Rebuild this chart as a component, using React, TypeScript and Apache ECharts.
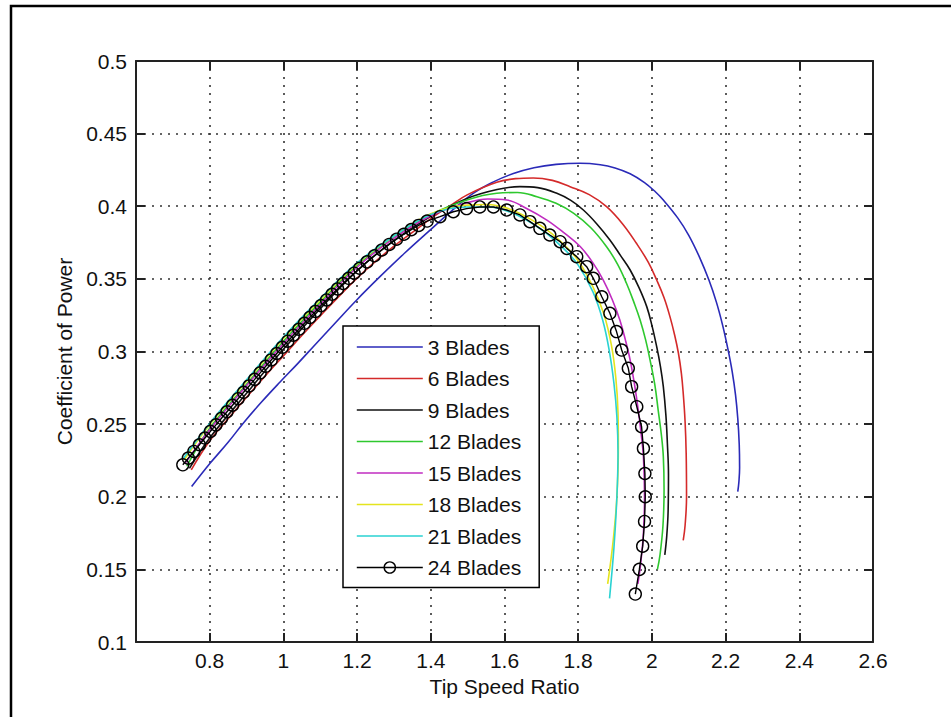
import React, { useEffect, useRef } from "react";
import * as echarts from "echarts";

const xTickMin = 0.6;
const xTickMax = 2.6;
const xTickStep = 0.2;
const yTickMin = 0.1;
const yTickMax = 0.5;
const yTickStep = 0.05;

const seriesNames = ["3 Blades", "6 Blades", "9 Blades", "12 Blades", "15 Blades", "18 Blades", "21 Blades", "24 Blades"];
const seriesColors = ["#2a2ab8", "#d42a2a", "#111111", "#2ec82e", "#c02cc0", "#e4e41e", "#2ad2d2", "#000000"];

const blades3 = [
  [0.751, 0.207], [0.801, 0.223], [0.85, 0.2375], [0.891, 0.2506], [0.94, 0.265], [0.991, 0.279],
  [1.04, 0.292], [1.081, 0.3033], [1.14, 0.3195], [1.199, 0.3355], [1.262, 0.3515], [1.33, 0.368],
  [1.398, 0.3836], [1.455, 0.3965], [1.515, 0.4089], [1.57, 0.4168], [1.624, 0.4225], [1.68, 0.4265],
  [1.74, 0.4288], [1.805, 0.4296], [1.86, 0.4286], [1.9, 0.4264], [1.941, 0.4224], [1.98, 0.4163],
  [2.01, 0.4098], [2.031, 0.4043], [2.07, 0.392], [2.1, 0.38], [2.13, 0.3645], [2.155, 0.349],
  [2.175, 0.334], [2.192, 0.318], [2.206, 0.302], [2.218, 0.286], [2.227, 0.27], [2.233, 0.254],
  [2.237, 0.236], [2.238, 0.22], [2.236, 0.21], [2.233, 0.2035],
];

const blades6 = [
  [0.75, 0.2185], [0.8, 0.2385], [0.85, 0.2537], [0.9, 0.2685], [0.95, 0.283], [1.0, 0.297],
  [1.05, 0.311], [1.1, 0.3245], [1.15, 0.3378], [1.2, 0.3505], [1.25, 0.362], [1.3, 0.3725],
  [1.35, 0.382], [1.4, 0.3915], [1.45, 0.4], [1.5, 0.408], [1.579, 0.4165], [1.63, 0.419],
  [1.678, 0.4195], [1.73, 0.4178], [1.778, 0.4135], [1.83, 0.408], [1.877, 0.3997], [1.92, 0.388],
  [1.958, 0.3745], [1.99, 0.3615], [2.013, 0.3492], [2.033, 0.337], [2.049, 0.324], [2.062, 0.311],
  [2.072, 0.2988], [2.08, 0.285], [2.085, 0.2713], [2.09, 0.252], [2.093, 0.23], [2.094, 0.2],
  [2.09, 0.18], [2.085, 0.17],
];

const blades9 = [
  [0.745, 0.2195], [0.8, 0.2405], [0.9, 0.2712], [1.0, 0.3015], [1.1, 0.3295], [1.2, 0.3555],
  [1.3, 0.3765], [1.4, 0.393], [1.5, 0.4055], [1.58, 0.4115], [1.642, 0.4135], [1.69, 0.4128],
  [1.742, 0.4089], [1.78, 0.404], [1.814, 0.3974], [1.85, 0.388], [1.886, 0.3768], [1.915, 0.366],
  [1.941, 0.3561], [1.965, 0.344], [1.986, 0.3309], [2.0, 0.318], [2.013, 0.3033], [2.023, 0.29],
  [2.031, 0.2758], [2.038, 0.256], [2.042, 0.2368], [2.045, 0.215], [2.044, 0.19], [2.04, 0.172],
  [2.035, 0.16],
];

const blades12 = [
  [0.738, 0.221], [0.8, 0.2472], [0.9, 0.2775], [1.0, 0.307], [1.1, 0.334], [1.2, 0.3593],
  [1.3, 0.3788], [1.4, 0.3943], [1.5, 0.4045], [1.579, 0.4089], [1.635, 0.4095], [1.688, 0.4066],
  [1.74, 0.402], [1.788, 0.3951], [1.835, 0.385], [1.877, 0.3721], [1.907, 0.36], [1.931, 0.347],
  [1.951, 0.334], [1.968, 0.3217], [1.983, 0.308], [1.995, 0.2941], [2.008, 0.277], [2.017, 0.2597],
  [2.026, 0.242], [2.031, 0.2276], [2.033, 0.205], [2.03, 0.18], [2.022, 0.16], [2.015, 0.15],
];

const blades15 = [
  [0.735, 0.2235], [0.8, 0.2462], [0.9, 0.2765], [1.0, 0.3055], [1.1, 0.3325], [1.2, 0.358],
  [1.3, 0.378], [1.4, 0.3935], [1.5, 0.4025], [1.555, 0.405], [1.606, 0.4043], [1.66, 0.3985],
  [1.715, 0.3905], [1.76, 0.382], [1.806, 0.3721], [1.84, 0.361], [1.868, 0.3492], [1.892, 0.336],
  [1.913, 0.3217], [1.928, 0.308], [1.941, 0.2941], [1.953, 0.277], [1.963, 0.2597], [1.971, 0.243],
  [1.977, 0.2276], [1.98, 0.2], [1.977, 0.175], [1.97, 0.155], [1.962, 0.14],
];

const blades18 = [
  [0.731, 0.2255], [0.8, 0.2495], [0.9, 0.2795], [1.0, 0.309], [1.1, 0.3355], [1.2, 0.3603],
  [1.3, 0.3795], [1.4, 0.3948], [1.5, 0.4008], [1.55, 0.4012], [1.62, 0.3975], [1.7, 0.3865],
  [1.76, 0.374], [1.8, 0.3625], [1.84, 0.3445], [1.87, 0.3255], [1.89, 0.3045], [1.902, 0.282],
  [1.908, 0.258], [1.909, 0.235], [1.905, 0.2], [1.895, 0.17], [1.88, 0.14],
];

const blades21 = [
  [0.729, 0.2265], [0.8, 0.2505], [0.9, 0.2805], [1.0, 0.31], [1.1, 0.3365], [1.2, 0.361],
  [1.3, 0.3795], [1.4, 0.3943], [1.5, 0.3995], [1.55, 0.3995], [1.62, 0.3955], [1.7, 0.384],
  [1.76, 0.371], [1.8, 0.3595], [1.84, 0.341], [1.866, 0.322], [1.884, 0.301], [1.897, 0.278],
  [1.905, 0.255], [1.908, 0.23], [1.905, 0.2], [1.897, 0.165], [1.885, 0.13],
];

const blades24 = [
  [0.727, 0.222], [0.742, 0.2266], [0.757, 0.2312], [0.772, 0.2358], [0.787, 0.2404], [0.802, 0.245],
  [0.817, 0.2495], [0.832, 0.254], [0.847, 0.2585], [0.862, 0.263], [0.877, 0.2675], [0.892, 0.2719],
  [0.907, 0.2763], [0.922, 0.2808], [0.937, 0.2853], [0.952, 0.2898], [0.967, 0.2942], [0.982, 0.2986],
  [0.997, 0.3029], [1.012, 0.3071], [1.027, 0.3112], [1.042, 0.3153], [1.057, 0.3194], [1.072, 0.3235],
  [1.087, 0.3276], [1.102, 0.3316], [1.117, 0.3355], [1.132, 0.3394], [1.147, 0.3431], [1.162, 0.3468],
  [1.177, 0.3504], [1.192, 0.3539], [1.207, 0.3573], [1.227, 0.3617], [1.247, 0.3659], [1.267, 0.3699],
  [1.287, 0.3737], [1.307, 0.3773], [1.327, 0.3807], [1.347, 0.3839], [1.367, 0.3868], [1.39, 0.3898],
  [1.425, 0.3928], [1.461, 0.3962], [1.497, 0.3984], [1.533, 0.3995], [1.57, 0.3995], [1.606, 0.3974],
  [1.642, 0.394], [1.669, 0.3894], [1.696, 0.3848], [1.723, 0.3802], [1.751, 0.3756], [1.769, 0.371],
  [1.796, 0.3653], [1.823, 0.3584], [1.841, 0.3504], [1.864, 0.3377], [1.886, 0.3263], [1.904, 0.3137],
  [1.918, 0.301], [1.936, 0.2884], [1.945, 0.2758], [1.959, 0.262], [1.972, 0.2482], [1.977, 0.2333],
  [1.981, 0.216], [1.982, 0.2], [1.98, 0.183], [1.975, 0.166], [1.966, 0.15], [1.955, 0.133],
];

const seriesData = [blades3, blades6, blades9, blades12, blades15, blades18, blades21, blades24];

export default function App() {
  const ref = useRef<HTMLDivElement>(null);

  useEffect(() => {
    if (!ref.current) return;
    const chart = echarts.init(ref.current, null, { renderer: "svg" });
    const font = "'Liberation Sans', Arial, Helvetica, sans-serif";
    const axisColor = "#222";
    const axisLine = { show: true, onZero: false, lineStyle: { color: axisColor, width: 2 } };
    const axisTick = { show: true, inside: true, length: 9, lineStyle: { color: axisColor, width: 2 } };
    const gridLine = { show: true, lineStyle: { type: [2, 6], color: "#333", width: 1.6 } };
    const lastIdx = seriesNames.length - 1;

    const series = seriesNames.map((name, i) => {
      const isMarker = i === lastIdx;
      return {
        name,
        type: "line",
        data: seriesData[i],
        smooth: isMarker ? false : 0.4,
        symbol: isMarker ? "circle" : "none",
        symbolSize: 12,
        showSymbol: isMarker,
        lineStyle: { color: seriesColors[i], width: isMarker ? 1.4 : 1.6 },
        itemStyle: isMarker
          ? { color: "rgba(0,0,0,0)", borderColor: "#000", borderWidth: 1.4 }
          : { color: seriesColors[i] },
        emphasis: { disabled: true },
        z: 2 + i,
      };
    });

    const legendData = seriesNames.map((name, i) =>
      i === lastIdx
        ? {
            name,
            itemStyle: { color: "rgba(0,0,0,0)", borderColor: "#000", borderWidth: 1.4 },
            lineStyle: { color: "#000", width: 1.4 },
          }
        : {
            name,
            itemStyle: { color: "rgba(0,0,0,0)", borderColor: "rgba(0,0,0,0)", borderWidth: 0, opacity: 0 },
            lineStyle: { color: seriesColors[i], width: 1.6 },
          }
    );

    chart.setOption({
      animation: false,
      backgroundColor: "#ffffff",
      textStyle: { fontFamily: font },
      grid: { left: 136, top: 61, right: 78, bottom: 75, containLabel: false, outerBoundsMode: "none" },
      xAxis: [
        {
          type: "value",
          min: xTickMin,
          max: xTickMax,
          interval: xTickStep,
          position: "bottom",
          name: "Tip Speed Ratio",
          nameLocation: "middle",
          nameGap: 33,
          nameTextStyle: { fontSize: 21, color: "#111", fontFamily: font },
          axisLine,
          axisTick,
          axisLabel: { show: true, showMinLabel: false, margin: 8, fontSize: 21, color: "#111", fontFamily: font },
          splitLine: gridLine,
        },
        {
          type: "value",
          min: xTickMin,
          max: xTickMax,
          interval: xTickStep,
          position: "top",
          axisLine,
          axisTick,
          axisLabel: { show: false },
          splitLine: { show: false },
        },
      ],
      yAxis: [
        {
          type: "value",
          min: yTickMin,
          max: yTickMax,
          interval: yTickStep,
          position: "left",
          name: "Coefficient of Power",
          nameLocation: "middle",
          nameGap: 57,
          nameTextStyle: { fontSize: 21, color: "#111", fontFamily: font },
          axisLine,
          axisTick,
          axisLabel: { show: true, margin: 9, fontSize: 21, color: "#111", fontFamily: font },
          splitLine: gridLine,
        },
        {
          type: "value",
          min: yTickMin,
          max: yTickMax,
          interval: yTickStep,
          position: "right",
          axisLine,
          axisTick,
          axisLabel: { show: false },
          splitLine: { show: false },
        },
      ],
      legend: {
        show: true,
        orient: "vertical",
        left: 343,
        top: 326,
        padding: [10, 18, 9, 13],
        itemWidth: 66,
        itemHeight: 14,
        itemGap: 9.5,
        backgroundColor: "#ffffff",
        borderColor: "#000",
        borderWidth: 1.5,
        selectedMode: false,
        data: legendData,
        textStyle: { fontSize: 21, lineHeight: 22, color: "#111", fontFamily: font },
      },
      graphic: [
        {
          type: "rect",
          silent: true,
          z: 100,
          shape: { x: 11, y: 6, width: 1000, height: 1000 },
          style: { fill: "none", stroke: "#000", lineWidth: 2.5 },
        },
      ],
      series,
    });

    return () => {
      chart.dispose();
    };
  }, []);

  return (
    <div
      ref={ref}
      style={{ position: "absolute", left: 0, top: 0, width: 951, height: 717, background: "#fff" }}
    />
  );
}
